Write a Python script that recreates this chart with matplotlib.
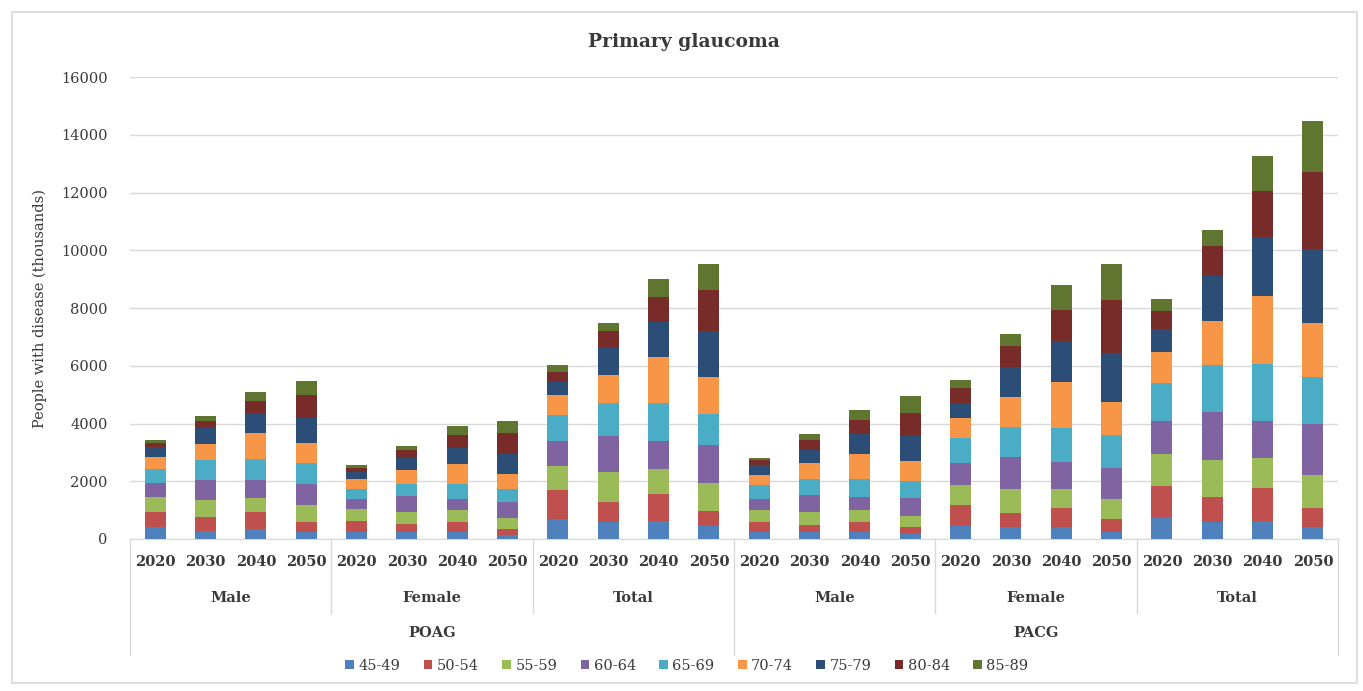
import numpy as np
import matplotlib
matplotlib.use("Agg")
import matplotlib.pyplot as plt
from matplotlib.transforms import blended_transform_factory
from matplotlib.patches import Rectangle

# axis labels
years = ["2020", "2030", "2040", "2050"]
sexes = ["Male", "Female", "Total"]
diseases = ["POAG", "PACG"]
age_groups = ["45-49", "50-54", "55-59", "60-64", "65-69", "70-74", "75-79", "80-84", "85-89"]

# people with disease (thousands), bars ordered POAG M/F/T then PACG M/F/T, years 2020..2050
a45_49 = [400, 290, 350, 255, 255, 235, 255, 140, 695, 600, 635, 440,
          255, 235, 255, 175, 465, 405, 405, 255, 775, 600, 625, 430]
a50_54 = [520, 465, 580, 350, 385, 290, 350, 210, 985, 670, 925, 545,
          350, 235, 350, 235, 700, 500, 665, 440, 1075, 865, 1155, 660]
a55_59 = [520, 580, 490, 560, 385, 405, 385, 385, 845, 1040, 865, 960,
          385, 465, 385, 385, 720, 815, 675, 700, 1085, 1270, 1040, 1135]
a60_64 = [490, 700, 615, 755, 370, 560, 405, 545, 855, 1270, 985, 1320,
          405, 580, 465, 630, 730, 1130, 905, 1070, 1155, 1675, 1270, 1755]
a65_69 = [500, 700, 730, 700, 350, 430, 525, 465, 925, 1120, 1295, 1075,
          465, 560, 640, 580, 870, 1045, 1210, 1140, 1305, 1620, 1965, 1620]
a70_74 = [410, 550, 895, 700, 325, 465, 665, 490, 670, 985, 1595, 1270,
          370, 545, 835, 700, 700, 1010, 1580, 1140, 1075, 1525, 2370, 1885]
a75_79 = [350, 560, 700, 870, 255, 405, 560, 700, 460, 925, 1215, 1585,
          350, 465, 700, 850, 525, 1045, 1420, 1710, 810, 1560, 2025, 2545]
a80_84 = [150, 255, 405, 790, 140, 290, 465, 730, 345, 610, 865, 1420,
          150, 350, 500, 815, 525, 730, 1070, 1825, 625, 1015, 1595, 2695]
a85_89 = [100, 150, 325, 490, 95, 150, 290, 405, 230, 255, 635, 925,
          80, 200, 350, 580, 255, 405, 870, 1230, 415, 580, 1215, 1755]

series = [a45_49, a50_54, a55_59, a60_64, a65_69, a70_74, a75_79, a80_84, a85_89]
colors = ["#4F81BD", "#C0504D", "#9BBB59", "#8064A2", "#4BACC6",
          "#F79646", "#2C4D75", "#772C2A", "#5F7530"]

FONT = "DejaVu Serif"
TXT = "#3a3a3a"
W, H = 1363, 691

fig = plt.figure(figsize=(W / 100, H / 100), dpi=100)
ax = fig.add_axes([130 / W, 1 - 539 / H, (1338 - 130) / W, (539 - 77) / H])

x = np.arange(len(a45_49))
bottom = np.zeros(len(x))
for vals, col, lab in zip(series, colors, age_groups):
    ax.bar(x, vals, width=0.42, bottom=bottom, color=col, label=lab, zorder=3)
    bottom += np.array(vals)

ax.set_xlim(-0.5, len(x) - 0.5)
ax.set_ylim(0, 16000)
ax.set_yticks(np.arange(0, 16001, 2000))
ax.set_yticklabels([str(v) for v in range(0, 16001, 2000)], fontsize=10.5,
                   family=FONT, color=TXT)
ax.tick_params(axis="y", length=0, pad=16)
ax.tick_params(axis="x", length=0, labelbottom=False)
ax.grid(axis="y", color="#D9D9D9", lw=1.0, zorder=0)
for s in ["top", "right", "left"]:
    ax.spines[s].set_visible(False)
ax.spines["bottom"].set_color("#D9D9D9")

ax.set_ylabel("People with disease (thousands)", family=FONT, fontsize=10.5,
              color=TXT, labelpad=10)

# multi-level category labels
tr = blended_transform_factory(ax.transData, fig.transFigure)
for i in range(len(x)):
    ax.text(x[i], 1 - 562 / H, years[i % 4], transform=tr, ha="center", va="center",
            family=FONT, fontsize=10.5, color=TXT, fontweight="bold")
for g in range(6):
    ax.text(g * 4 + 1.5, 1 - 598 / H, sexes[g % 3], transform=tr, ha="center",
            va="center", family=FONT, fontsize=10.5, color=TXT, fontweight="bold")
for d in range(2):
    ax.text(d * 12 + 5.5, 1 - 633 / H, diseases[d], transform=tr, ha="center",
            va="center", family=FONT, fontsize=10.5, color=TXT, fontweight="bold")

# group divider lines
for g in range(7):
    xd = g * 4 - 0.5
    y_end = 655 if g % 3 == 0 else 613
    ax.plot([xd, xd], [1 - 539 / H, 1 - y_end / H], transform=tr, color="#D9D9D9",
            lw=1.0, clip_on=False)

fig.text(684 / W, 1 - 42 / H, "Primary glaucoma", ha="center", va="center",
         family=FONT, fontsize=13.5, color=TXT, fontweight="bold")

leg = fig.legend(loc="center", bbox_to_anchor=(687 / W, 1 - 666 / H), ncol=9,
                 frameon=False, handlelength=0.6, handleheight=0.6,
                 handletextpad=0.3, columnspacing=1.6,
                 prop={"family": FONT, "size": 10.5})
for t in leg.get_texts():
    t.set_color(TXT)

# chart border
fig.patches.append(Rectangle((12 / W, 1 - 683 / H), (1357 - 12) / W, (683 - 12) / H,
                             transform=fig.transFigure, fill=False,
                             edgecolor="#D9D9D9", lw=1.2))

fig.savefig("out.png", dpi=100)
